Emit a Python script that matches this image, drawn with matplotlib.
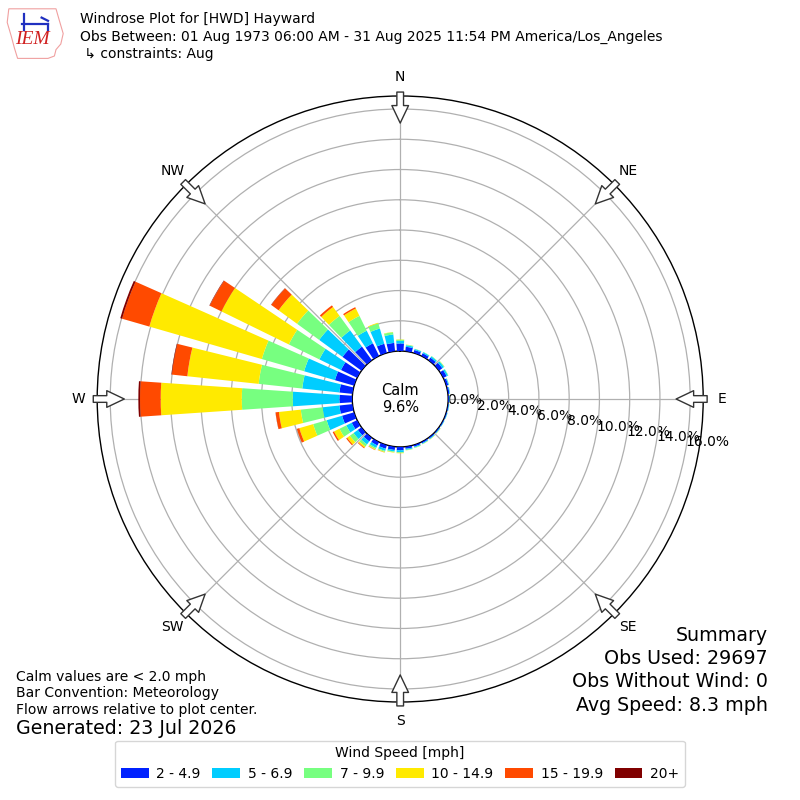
import numpy as np
import matplotlib
matplotlib.use("Agg")
import matplotlib.pyplot as plt
from matplotlib.patches import Patch, Polygon
from matplotlib.lines import Line2D

# ---- data ----
directions = list(range(0, 360, 10))
bin_labels = ["2 - 4.9", "5 - 6.9", "7 - 9.9", "10 - 14.9", "15 - 19.9", "20+"]
spd_2_5 = [0.50, 0.30, 0.20, 0.20, 0.22, 0.28, 0.25, 0.14, 0.10, 0.07, 0.06, 0.06,
           0.06, 0.07, 0.08, 0.09, 0.11, 0.14, 0.22, 0.22, 0.25, 0.25, 0.30, 0.30,
           0.40, 0.83, 0.87, 0.85, 0.87, 1.32, 1.19, 1.55, 1.12, 0.93, 0.63, 0.56]
spd_5_7 = [0.17, 0.10, 0.07, 0.08, 0.10, 0.13, 0.10, 0.05, 0.04, 0.03, 0.03, 0.03,
           0.03, 0.04, 0.05, 0.05, 0.06, 0.07, 0.12, 0.10, 0.15, 0.18, 0.25, 0.35,
           0.40, 1.06, 1.12, 3.08, 2.47, 2.12, 1.59, 1.91, 1.32, 0.93, 1.05, 0.56]
spd_7_10 = [0.08, 0.04, 0.02, 0.02, 0.03, 0.04, 0.03, 0.01, 0.01, 0.01, 0.01, 0.01,
            0.01, 0.02, 0.02, 0.02, 0.03, 0.03, 0.05, 0.05, 0.07, 0.10, 0.17, 0.30,
            0.50, 0.93, 1.45, 3.37, 2.90, 2.91, 2.25, 1.81, 1.19, 1.09, 0.35, 0.15]
spd_10_15 = [0.02, 0.01, 0.00, 0.00, 0.00, 0.01, 0.00, 0.00, 0.00, 0.00, 0.00, 0.00,
             0.00, 0.01, 0.01, 0.01, 0.01, 0.01, 0.03, 0.03, 0.04, 0.05, 0.10, 0.22,
             0.40, 0.95, 1.45, 5.36, 4.74, 7.74, 4.96, 1.51, 0.73, 0.54, 0.05, 0.02]
spd_15_20 = [0.00, 0.00, 0.00, 0.00, 0.00, 0.00, 0.00, 0.00, 0.00, 0.00, 0.00, 0.00,
             0.00, 0.00, 0.00, 0.00, 0.00, 0.00, 0.00, 0.00, 0.01, 0.02, 0.05, 0.08,
             0.10, 0.17, 0.22, 1.37, 1.03, 1.88, 0.86, 0.60, 0.13, 0.10, 0.00, 0.00]
spd_20p = [0.00] * 25 + [0.01, 0.01, 0.11, 0.03, 0.12, 0.03, 0.02, 0.00, 0.00, 0.00, 0.00]
series = [spd_2_5, spd_5_7, spd_7_10, spd_10_15, spd_15_20, spd_20p]
ring_values = [0, 2, 4, 6, 8, 10, 12, 14, 16]
ring_labels = ["0.0%", "2.0%", "4.0%", "6.0%", "8.0%", "10.0%", "12.0%", "14.0%", "16.0%"]
compass = ["N", "NE", "E", "SE", "S", "SW", "W", "NW"]
calm_pct = 9.6

colors = matplotlib.colormaps["jet"](np.linspace(0.16, 1.0, 6))

fig = plt.figure(figsize=(8, 8), dpi=100)
ax = fig.add_axes([0.1215, 0.1225, 0.7575, 0.7575], projection="polar")
ax.set_theta_zero_location("N")
ax.set_theta_direction(-1)
rmax = 16.86
ax.set_rorigin(-3.17)
ax.set_ylim(0, rmax)

theta = np.radians(directions)
width = np.radians(10) * 0.78
bottom = np.zeros(len(directions))
for vals, col in zip(series, colors):
    v = np.array(vals)
    ax.bar(theta, v, width=width, bottom=bottom, color=col, edgecolor="none",
           zorder=3)
    bottom += v

ax.set_xticks(np.radians(np.arange(0, 360, 45)))
ax.set_xticklabels(compass, fontsize=10)
ax.tick_params(axis="x", pad=3)
ax.set_rgrids(ring_values, ring_labels, angle=100, fontsize=10)
ax.grid(color="#b0b0b0", lw=0.9)
ax.spines["polar"].set_linewidth(1.0)
ax.spines["inner"].set_linewidth(1.0)

# flow arrows (pointing toward the plot centre)
r_tail, r_tip = 17.12, 15.07
for ang in np.radians(np.arange(0, 360, 45)):
    ax.annotate("", xy=(ang, r_tip), xytext=(ang, r_tail), annotation_clip=False,
                arrowprops=dict(arrowstyle="simple,head_length=1.05,head_width=1.0,tail_width=0.4",
                                fc="white", ec="#333333", lw=1.0, shrinkA=0, shrinkB=0,
                                mutation_scale=12), zorder=5)

ax.text(0.5, 0.5, f"Calm\n{calm_pct:.1f}%", transform=ax.transAxes, ha="center",
        va="center", fontsize=10.5, zorder=6)

# header
fig.text(0.1, 0.985, "Windrose Plot for [HWD] Hayward", fontsize=10, va="top")
fig.text(0.1, 0.9625, "Obs Between: 01 Aug 1973 06:00 AM - 31 Aug 2025 11:54 PM America/Los_Angeles",
         fontsize=10, va="top")
fig.text(0.1, 0.941, " \u21b3 constraints: Aug", fontsize=10, va="top")

# logo
iowa = [(0.011, 0.989), (0.070, 0.989), (0.074, 0.975), (0.079, 0.958), (0.076, 0.945),
        (0.070, 0.938), (0.068, 0.930), (0.060, 0.927), (0.022, 0.927), (0.018, 0.940),
        (0.014, 0.955), (0.009, 0.972)]
fig.patches.append(Polygon(iowa, closed=True, transform=fig.transFigure, fill=False,
                           ec="#f0a0a0", lw=0.8))
for xs, ys in [([0.028, 0.060], [0.970, 0.970]), ([0.030, 0.030], [0.962, 0.982]),
               ([0.052, 0.060], [0.978, 0.974]), ([0.060, 0.060], [0.970, 0.962])]:
    fig.lines.append(Line2D(xs, ys, transform=fig.transFigure, color="#2030c0", lw=1.6))
fig.text(0.040, 0.951, "IEM", color="#d02020", fontsize=14, style="italic",
         family="Liberation Serif", ha="center", va="center")

# bottom-left notes
fig.text(0.02, 0.154, "Calm values are < 2.0 mph", fontsize=10, va="center")
fig.text(0.02, 0.134, "Bar Convention: Meteorology", fontsize=10, va="center")
fig.text(0.02, 0.1125, "Flow arrows relative to plot center.", fontsize=10, va="center")
fig.text(0.02, 0.089, "Generated: 23 Jul 2026", fontsize=13.7, va="center")

# summary
summary = ["Summary", "Obs Used: 29697", "Obs Without Wind: 0", "Avg Speed: 8.3 mph"]
for i, s in enumerate(summary):
    fig.text(0.96, 0.206 - i * 0.0292, s, fontsize=13.7, ha="right", va="center")

handles = [Patch(facecolor=c, label=l) for c, l in zip(colors, bin_labels)]
fig.legend(handles=handles, loc="lower center", bbox_to_anchor=(0.5, 0.008), ncol=6,
           title="Wind Speed [mph]", fontsize=10, title_fontsize=10,
           handletextpad=0.55, columnspacing=0.85)

fig.savefig("out.png", dpi=100)
